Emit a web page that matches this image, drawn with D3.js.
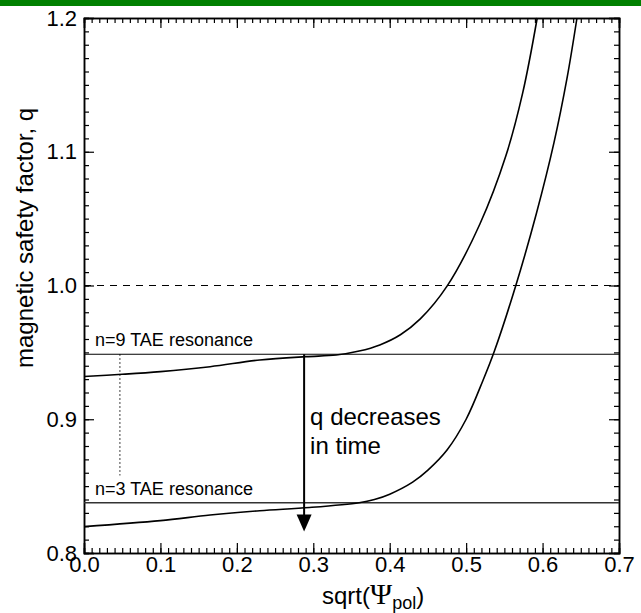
<!DOCTYPE html>
<html>
<head>
<meta charset="utf-8">
<script src="https://cdn.jsdelivr.net/npm/d3@7"></script>
<style>
  body { margin: 0; background: #fff; }
  svg { display: block; }
  text { font-family: "Liberation Sans", Arial, sans-serif; fill: #000; }
</style>
</head>
<body>
<div id="chart"></div>
<script>
// q profiles (x = sqrt(psi_pol))
var earlyX = [0, 0.05, 0.1, 0.165, 0.23, 0.29, 0.33, 0.36, 0.387, 0.414, 0.44, 0.475, 0.518, 0.552, 0.574, 0.593];
var earlyQ = [0.932, 0.9336, 0.9356, 0.9393, 0.9443, 0.9468, 0.948, 0.951, 0.9556, 0.9632, 0.975, 0.9995, 1.046, 1.097, 1.144, 1.2];

var lateX = [0, 0.1, 0.165, 0.23, 0.295, 0.36, 0.38, 0.4, 0.43, 0.45, 0.475, 0.5, 0.522, 0.537, 0.565, 0.592, 0.615, 0.632, 0.645];
var lateQ = [0.8197, 0.8242, 0.8284, 0.8316, 0.834, 0.8376, 0.840, 0.844, 0.853, 0.862, 0.877, 0.9, 0.929, 0.951, 1.0, 1.054, 1.107, 1.155, 1.2];

// resonance levels
var resonanceNames = ['n=9 TAE resonance', 'n=3 TAE resonance'];
var resonanceQ = [0.9486, 0.8376];

var qRef = 1.0;
var arrowX = 0.288;
var arrowQ = [0.9486, 0.816];
var dottedX = 0.047;
var dottedQ = [0.9486, 0.858];

var xTickVals = [0, 0.1, 0.2, 0.3, 0.4, 0.5, 0.6, 0.7];
var xTickLabels = ['0.0', '0.1', '0.2', '0.3', '0.4', '0.5', '0.6', '0.7'];
var yTickVals = [0.8, 0.9, 1.0, 1.1, 1.2];
var yTickLabels = ['0.8', '0.9', '1.0', '1.1', '1.2'];

var W = 641, H = 613;
var margin = { top: 18, right: 22, bottom: 60, left: 84 };
var width = W - margin.left - margin.right;
var height = H - margin.top - margin.bottom;

var svg = d3.select('#chart').append('svg')
  .attr('width', W)
  .attr('height', H);

// green strip along the top edge
svg.append('rect')
  .attr('x', 0).attr('y', 0)
  .attr('width', W).attr('height', 6)
  .attr('fill', '#008000');

var g = svg.append('g')
  .attr('transform', 'translate(' + margin.left + ',' + margin.top + ')');

var x = d3.scaleLinear().domain([0, 0.7]).range([0, width]);
var y = d3.scaleLinear().domain([0.8, 1.2]).range([height, 0]);

var minorX = d3.range(0, 71).map(function(i) { return i / 100; });
var minorY = d3.range(80, 121).map(function(i) { return i / 100; });

function styleAxis(sel) {
  sel.select('.domain').attr('stroke', '#000').attr('stroke-width', 1.5);
  sel.selectAll('.tick line').attr('stroke', '#000').attr('stroke-width', 1.2);
  sel.selectAll('.tick text').attr('font-size', '22px').attr('fill', '#000')
    .attr('font-family', '"Liberation Sans", Arial, sans-serif');
}

// minor ticks on all four sides
g.append('g').attr('transform', 'translate(0,' + height + ')')
  .call(d3.axisBottom(x).tickValues(minorX).tickSize(-5).tickFormat(''))
  .call(styleAxis);
g.append('g')
  .call(d3.axisTop(x).tickValues(minorX).tickSize(-5).tickFormat(''))
  .call(styleAxis);
g.append('g')
  .call(d3.axisLeft(y).tickValues(minorY).tickSize(-5).tickFormat(''))
  .call(styleAxis);
g.append('g').attr('transform', 'translate(' + width + ',0)')
  .call(d3.axisRight(y).tickValues(minorY).tickSize(-5).tickFormat(''))
  .call(styleAxis);

// major ticks
g.append('g').attr('transform', 'translate(0,' + height + ')')
  .call(d3.axisBottom(x).tickValues(xTickVals).tickSize(-10).tickPadding(3)
    .tickFormat(function(d, i) { return xTickLabels[i]; }))
  .call(styleAxis);
g.append('g')
  .call(d3.axisTop(x).tickValues(xTickVals).tickSize(-10).tickFormat(''))
  .call(styleAxis);
g.append('g')
  .call(d3.axisLeft(y).tickValues(yTickVals).tickSize(-10).tickPadding(7)
    .tickFormat(function(d, i) { return yTickLabels[i]; }))
  .call(styleAxis);
g.append('g').attr('transform', 'translate(' + width + ',0)')
  .call(d3.axisRight(y).tickValues(yTickVals).tickSize(-10).tickFormat(''))
  .call(styleAxis);

// q = 1 dashed reference
g.append('line')
  .attr('x1', x(0)).attr('x2', x(0.7))
  .attr('y1', y(qRef)).attr('y2', y(qRef))
  .attr('stroke', '#000').attr('stroke-width', 1.2)
  .attr('stroke-dasharray', '7,6');

// resonance lines + labels
resonanceQ.forEach(function(q, i) {
  g.append('line')
    .attr('x1', x(0)).attr('x2', x(0.7))
    .attr('y1', y(q)).attr('y2', y(q))
    .attr('stroke', i === 0 ? '#000' : '#333')
    .attr('stroke-width', i === 0 ? 1.2 : 1.5);
  g.append('text')
    .attr('x', 11)
    .attr('y', y(q) - 8)
    .attr('font-size', '18px')
    .text(resonanceNames[i]);
});

// dotted marker
g.append('line')
  .attr('x1', x(dottedX)).attr('x2', x(dottedX))
  .attr('y1', y(dottedQ[0])).attr('y2', y(dottedQ[1]))
  .attr('stroke', '#000').attr('stroke-width', 1)
  .attr('stroke-dasharray', '1.5,2.5');

// q profiles
var line = d3.line()
  .x(function(d) { return x(d[0]); })
  .y(function(d) { return y(d[1]); })
  .curve(d3.curveCatmullRom.alpha(0.5));

[[earlyX, earlyQ], [lateX, lateQ]].forEach(function(c) {
  g.append('path')
    .datum(d3.zip(c[0], c[1]))
    .attr('d', line)
    .attr('fill', 'none')
    .attr('stroke', '#000')
    .attr('stroke-width', 1.6);
});

// arrow "q decreases in time"
var headLen = 17, headHalf = 7.5;
var tipY = y(arrowQ[1]);
g.append('line')
  .attr('x1', x(arrowX)).attr('x2', x(arrowX))
  .attr('y1', y(arrowQ[0])).attr('y2', tipY - headLen + 1)
  .attr('stroke', '#000').attr('stroke-width', 2);
g.append('path')
  .attr('d', 'M' + (x(arrowX) - headHalf) + ',' + (tipY - headLen) +
    'L' + (x(arrowX) + headHalf) + ',' + (tipY - headLen) +
    'L' + x(arrowX) + ',' + tipY + 'Z')
  .attr('fill', '#000');

var note = g.append('text')
  .attr('x', x(arrowX) + 6)
  .attr('y', 407)
  .attr('font-size', '24px');
note.append('tspan').text('q decreases');
note.append('tspan').attr('x', x(arrowX) + 6).attr('dy', 29).text('in time');

// axis titles
var xt = svg.append('text')
  .attr('x', 322)
  .attr('y', 604)
  .attr('font-size', '24px');
xt.append('tspan').text('sqrt(');
xt.append('tspan')
  .attr('font-family', '"Liberation Serif", "Times New Roman", serif')
  .attr('font-size', '30px')
  .text('\u03A8');
xt.append('tspan').attr('font-size', '18px').attr('dy', 5).text('pol');
xt.append('tspan').attr('dy', -5).text(')');

svg.append('text')
  .attr('transform', 'translate(33,368) rotate(-90)')
  .attr('font-size', '24px')
  .text('magnetic safety factor, q');
</script>
</body>
</html>
